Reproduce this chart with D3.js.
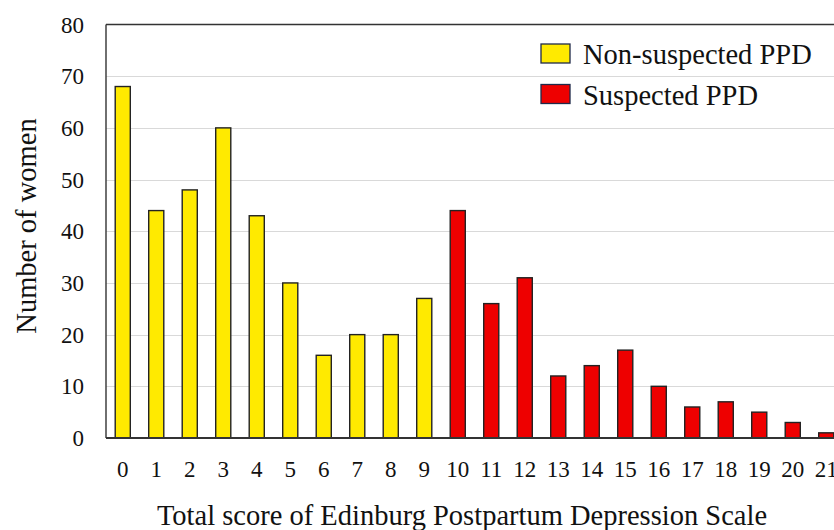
<!DOCTYPE html>
<html>
<head>
<meta charset="utf-8">
<script src="https://cdn.jsdelivr.net/npm/d3@7"></script>
<style>
  body { margin: 0; background: #fff; }
  text { font-family: "Liberation Serif", "Times New Roman", serif; fill: #111; }
</style>
</head>
<body>
<script>
var width = 834
var height = 530

// data
var scores = d3.range(0, 22)
var counts = [68, 44, 48, 60, 43, 30, 16, 20, 20, 27, 44, 26, 31, 12, 14, 17, 10, 6, 7, 5, 3, 1]
var cutoff = 10
var yTicks = [0, 10, 20, 30, 40, 50, 60, 70, 80]
var legendLabels = ["Non-suspected PPD", "Suspected PPD"]
var colors = ["#ffea00", "#ee0000"]

var margin = { left: 106, top: 24.5, bottom: 438 }
var step = 33.5

var svg = d3.select("body").append("svg")
    .attr("width", width)
    .attr("height", height)

var x = d3.scaleBand()
    .domain(scores)
    .range([margin.left, margin.left + step * scores.length])
    .paddingInner(0.55)
    .paddingOuter(0.275)

var y = d3.scaleLinear()
    .domain([0, 80])
    .range([margin.bottom, margin.top])

// gridlines
svg.append("g").selectAll("line").data(yTicks.slice(1, -1)).enter()
    .append("line")
    .attr("x1", margin.left).attr("x2", width)
    .attr("y1", function(d){ return Math.round(y(d)) + 0.5 })
    .attr("y2", function(d){ return Math.round(y(d)) + 0.5 })
    .attr("stroke", "#d9d9d9")
    .attr("stroke-width", 1.2)

// bars
svg.append("g").selectAll("rect").data(counts).enter()
    .append("rect")
    .attr("x", function(d, i){ return x(scores[i]) })
    .attr("y", function(d){ return y(d) })
    .attr("width", x.bandwidth())
    .attr("height", function(d){ return y(0) - y(d) })
    .attr("fill", function(d, i){ return scores[i] < cutoff ? colors[0] : colors[1] })
    .attr("stroke", "#222")
    .attr("stroke-width", 1.4)

// frame: top border and left axis
svg.append("line")
    .attr("x1", margin.left).attr("x2", width)
    .attr("y1", y(80)).attr("y2", y(80))
    .attr("stroke", "#333").attr("stroke-width", 1.4)
svg.append("line")
    .attr("x1", margin.left).attr("x2", margin.left)
    .attr("y1", y(80)).attr("y2", y(0))
    .attr("stroke", "#333").attr("stroke-width", 1.4)
svg.append("line")
    .attr("x1", margin.left).attr("x2", width)
    .attr("y1", y(0)).attr("y2", y(0))
    .attr("stroke", "#333").attr("stroke-width", 1.8)

// y tick labels
svg.append("g").selectAll("text").data(yTicks).enter()
    .append("text")
    .attr("x", 84)
    .attr("y", function(d){ return y(d) })
    .attr("dy", "0.35em")
    .attr("text-anchor", "end")
    .style("font-size", "23px")
    .text(function(d){ return d })

// x tick labels
svg.append("g").selectAll("text").data(scores).enter()
    .append("text")
    .attr("x", function(d){ return x(d) + x.bandwidth() / 2 })
    .attr("y", 469)
    .attr("dy", "0.35em")
    .attr("text-anchor", "middle")
    .style("font-size", "23px")
    .text(function(d){ return d })

// axis titles
svg.append("text")
    .attr("x", 462)
    .attr("y", 525)
    .attr("text-anchor", "middle")
    .style("font-size", "28.5px")
    .text("Total score of Edinburg Postpartum Depression Scale")

svg.append("text")
    .attr("transform", "translate(26," + 226 + ") rotate(-90)")
    .attr("dy", "0.35em")
    .attr("text-anchor", "middle")
    .style("font-size", "28.5px")
    .text("Number of women")

// legend
var legend = svg.append("g").selectAll("g").data(legendLabels).enter()
    .append("g")
    .attr("transform", function(d, i){ return "translate(541," + (44 + i * 40.5) + ")" })

legend.append("rect")
    .attr("width", 29)
    .attr("height", 19)
    .attr("fill", function(d, i){ return colors[i] })
    .attr("stroke", "#1f2a4a")
    .attr("stroke-width", 1.3)

legend.append("text")
    .attr("x", 42)
    .attr("y", 20)
    .style("font-size", "28.5px")
    .text(function(d){ return d })
</script>
</body>
</html>
